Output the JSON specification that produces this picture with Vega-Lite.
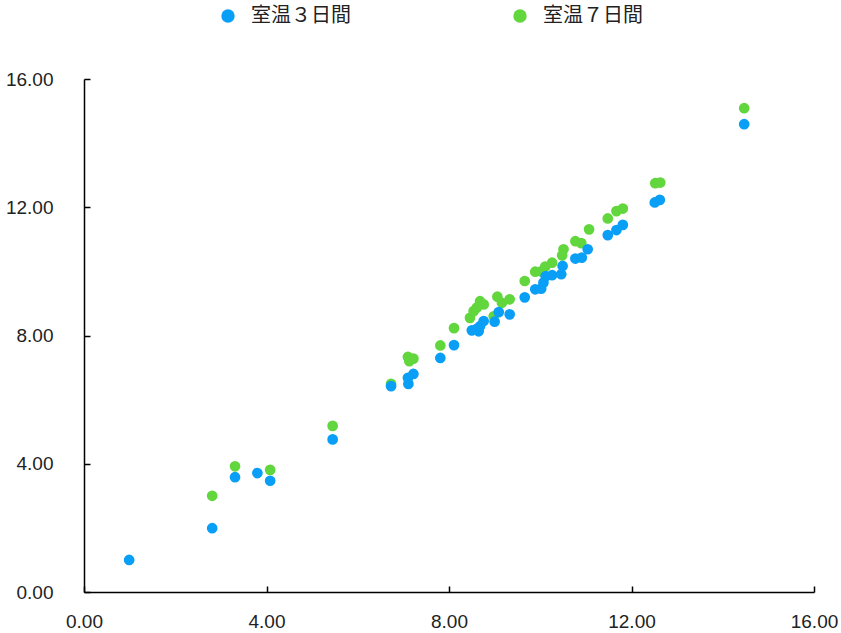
{
  "$schema": "https://vega.github.io/schema/vega-lite/v6.json",
  "autosize": {"type": "none"},
  "width": 730,
  "height": 513,
  "padding": {"left": 84, "top": 79, "right": 27, "bottom": 41},
  "background": "white",
  "config": {
    "view": {"stroke": null},
    "font": "Liberation Sans",
    "axis": {"grid": false, "domainColor": "#000", "domainWidth": 1.5, "tickColor": "#000", "tickWidth": 1.5, "labelFontSize": 19, "labelColor": "#222", "labelFont": "Liberation Sans", "title": null}
  },
  "data": {"values": [
    {"series": "室温７日間", "x": 2.81, "y": 3.0},
    {"series": "室温７日間", "x": 3.31, "y": 3.92},
    {"series": "室温７日間", "x": 4.08, "y": 3.81},
    {"series": "室温７日間", "x": 5.45, "y": 5.18},
    {"series": "室温７日間", "x": 6.73, "y": 6.49},
    {"series": "室温７日間", "x": 7.10, "y": 7.33},
    {"series": "室温７日間", "x": 7.13, "y": 7.20},
    {"series": "室温７日間", "x": 7.22, "y": 7.28},
    {"series": "室温７日間", "x": 7.81, "y": 7.69},
    {"series": "室温７日間", "x": 8.11, "y": 8.23},
    {"series": "室温７日間", "x": 8.46, "y": 8.55},
    {"series": "室温７日間", "x": 8.54, "y": 8.76},
    {"series": "室温７日間", "x": 8.61, "y": 8.87},
    {"series": "室温７日間", "x": 8.68, "y": 9.07},
    {"series": "室温７日間", "x": 8.76, "y": 8.97},
    {"series": "室温７日間", "x": 8.98, "y": 8.60},
    {"series": "室温７日間", "x": 9.06, "y": 9.21},
    {"series": "室温７日間", "x": 9.16, "y": 9.02},
    {"series": "室温７日間", "x": 9.33, "y": 9.13},
    {"series": "室温７日間", "x": 9.66, "y": 9.70},
    {"series": "室温７日間", "x": 9.89, "y": 9.99},
    {"series": "室温７日間", "x": 10.02, "y": 10.0},
    {"series": "室温７日間", "x": 10.11, "y": 10.15},
    {"series": "室温７日間", "x": 10.26, "y": 10.27},
    {"series": "室温７日間", "x": 10.48, "y": 10.50},
    {"series": "室温７日間", "x": 10.51, "y": 10.69},
    {"series": "室温７日間", "x": 10.77, "y": 10.94},
    {"series": "室温７日間", "x": 10.90, "y": 10.88},
    {"series": "室温７日間", "x": 11.07, "y": 11.31},
    {"series": "室温７日間", "x": 11.48, "y": 11.65},
    {"series": "室温７日間", "x": 11.67, "y": 11.88},
    {"series": "室温７日間", "x": 11.81, "y": 11.96},
    {"series": "室温７日間", "x": 12.52, "y": 12.75},
    {"series": "室温７日間", "x": 12.63, "y": 12.77},
    {"series": "室温７日間", "x": 14.47, "y": 15.09},
    {"series": "室温３日間", "x": 0.99, "y": 1.0},
    {"series": "室温３日間", "x": 2.81, "y": 1.99},
    {"series": "室温３日間", "x": 3.31, "y": 3.58},
    {"series": "室温３日間", "x": 3.80, "y": 3.71},
    {"series": "室温３日間", "x": 4.08, "y": 3.47},
    {"series": "室温３日間", "x": 5.45, "y": 4.76},
    {"series": "室温３日間", "x": 6.73, "y": 6.42},
    {"series": "室温３日間", "x": 7.10, "y": 6.68},
    {"series": "室温３日間", "x": 7.11, "y": 6.49},
    {"series": "室温３日間", "x": 7.22, "y": 6.80},
    {"series": "室温３日間", "x": 7.81, "y": 7.30},
    {"series": "室温３日間", "x": 8.11, "y": 7.70},
    {"series": "室温３日間", "x": 8.50, "y": 8.16},
    {"series": "室温３日間", "x": 8.61, "y": 8.21},
    {"series": "室温３日間", "x": 8.65, "y": 8.13},
    {"series": "室温３日間", "x": 8.68, "y": 8.29},
    {"series": "室温３日間", "x": 8.76, "y": 8.45},
    {"series": "室温３日間", "x": 9.00, "y": 8.43},
    {"series": "室温３日間", "x": 9.09, "y": 8.73},
    {"series": "室温３日間", "x": 9.33, "y": 8.66},
    {"series": "室温３日間", "x": 9.66, "y": 9.19},
    {"series": "室温３日間", "x": 9.89, "y": 9.44},
    {"series": "室温３日間", "x": 10.02, "y": 9.46},
    {"series": "室温３日間", "x": 10.07, "y": 9.65},
    {"series": "室温３日間", "x": 10.12, "y": 9.85},
    {"series": "室温３日間", "x": 10.26, "y": 9.88},
    {"series": "室温３日間", "x": 10.46, "y": 9.91},
    {"series": "室温３日間", "x": 10.49, "y": 10.17},
    {"series": "室温３日間", "x": 10.77, "y": 10.40},
    {"series": "室温３日間", "x": 10.91, "y": 10.43},
    {"series": "室温３日間", "x": 11.04, "y": 10.69},
    {"series": "室温３日間", "x": 11.48, "y": 11.13},
    {"series": "室温３日間", "x": 11.67, "y": 11.29},
    {"series": "室温３日間", "x": 11.81, "y": 11.45},
    {"series": "室温３日間", "x": 12.51, "y": 12.15},
    {"series": "室温３日間", "x": 12.62, "y": 12.23},
    {"series": "室温３日間", "x": 14.47, "y": 14.59}
  ]},
  "mark": {"type": "circle", "size": 115, "opacity": 1},
  "encoding": {
    "x": {"field": "x", "type": "quantitative", "scale": {"domain": [0, 16], "nice": false, "zero": true},
      "axis": {"values": [0, 4, 8, 12, 16], "format": ".2f", "tickSize": -6, "labelPadding": 26, "labelFlush": false}},
    "y": {"field": "y", "type": "quantitative", "scale": {"domain": [0, 16], "nice": false},
      "axis": {"values": [0, 4, 8, 12, 16], "format": ".2f", "tickSize": -6, "labelPadding": 37}},
    "color": {"field": "series", "type": "nominal",
      "scale": {"domain": ["室温３日間", "室温７日間"], "range": ["#0a9ff6", "#62d63d"]},
      "legend": {"title": null, "orient": "none", "direction": "horizontal", "legendX": 134, "legendY": -73,
        "symbolType": "circle", "symbolSize": 180, "symbolOpacity": 1, "labelFontSize": 20, "labelFont": "Noto Sans CJK JP", "labelColor": "#222", "labelOffset": 13, "columnPadding": 159}}
  }
}
